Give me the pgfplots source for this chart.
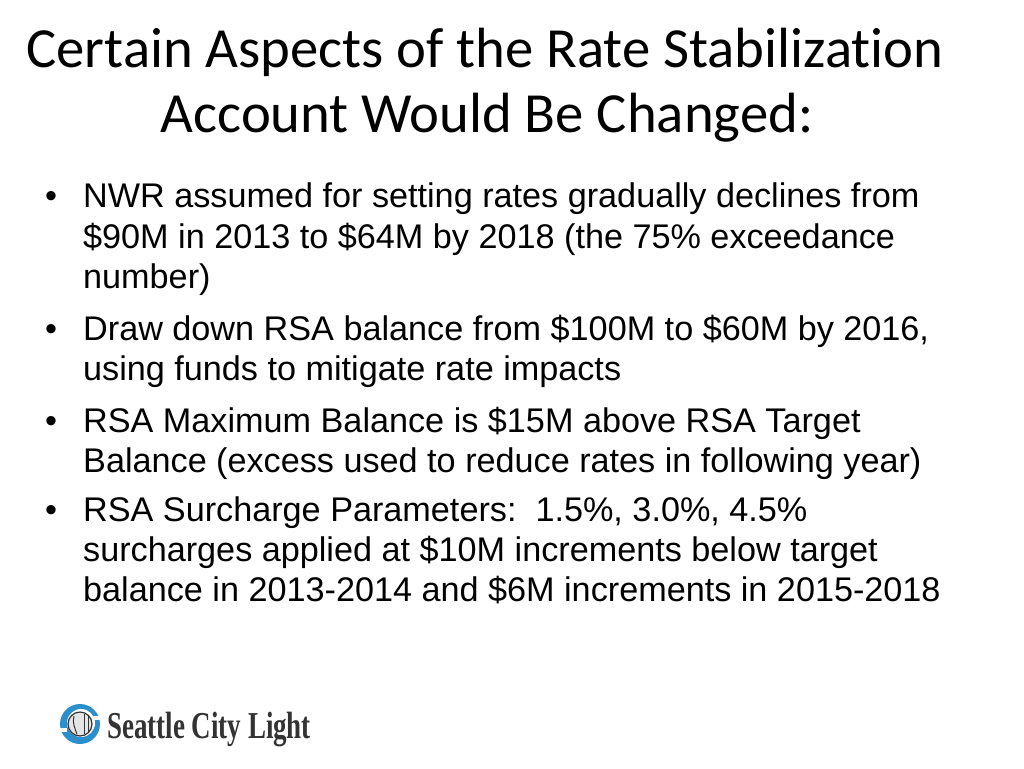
\documentclass[border=0pt]{standalone}
\usepackage{fontspec}
\setmainfont{Liberation Sans}
\newfontfamily\titlefont[Ligatures={NoCommon}]{Carlito}
\newfontfamily\logofont{Liberation Serif}
\usepackage{pgfplots}
\pgfplotsset{compat=1.18}
\definecolor{scl}{HTML}{2A8FCB}
\definecolor{logogray}{HTML}{333333}
\tikzset{body/.style={anchor=base west, font=\fontsize{34.2}{40}\selectfont, inner sep=0pt},
         bul/.style={anchor=base, font=\fontsize{34.2}{40}\selectfont, inner sep=0pt},
         ttl/.style={anchor=base, font=\titlefont\fontsize{56.7}{64}\selectfont, inner sep=0pt}}
\begin{document}
\begin{tikzpicture}
\begin{axis}[
  scale only axis, width=1024pt, height=768pt,
  xmin=0, xmax=1024, ymin=0, ymax=768, y dir=reverse,
  hide axis, clip=false,
]
\fill[white] (axis cs:0,0) rectangle (axis cs:1024,768);
% title
\node[ttl] at (axis cs:485,67) {Certain Aspects of the Rate Stabilization};
\node[ttl] at (axis cs:487,132) {Account Would Be Changed:};
% bullets
\node[bul] at (axis cs:51,207) {\textbullet};
\node[bul] at (axis cs:51,340) {\textbullet};
\node[bul] at (axis cs:51,432) {\textbullet};
\node[bul] at (axis cs:51,521) {\textbullet};
\node[body] at (axis cs:83,207) {NWR assumed for setting rates gradually declines from};
\node[body] at (axis cs:83,248) {\$90M in 2013 to \$64M by 2018 (the 75\% exceedance};
\node[body] at (axis cs:83,288) {number)};
\node[body] at (axis cs:83,340) {Draw down RSA balance from \$100M to \$60M by 2016,};
\node[body] at (axis cs:83,380) {using funds to mitigate rate impacts};
\node[body] at (axis cs:83,432) {RSA Maximum Balance is \$15M above RSA Target};
\node[body] at (axis cs:83,472) {Balance (excess used to reduce rates in following year)};
\node[body] at (axis cs:83,521) {RSA Surcharge Parameters:\ \ 1.5\%, 3.0\%, 4.5\%};
\node[body] at (axis cs:83,561) {surcharges applied at \$10M increments below target};
\node[body] at (axis cs:83,601) {balance in 2013-2014 and \$6M increments in 2015-2018};
% logo
\fill[scl] (axis cs:80,724) circle[radius=20pt];
\fill[white] (axis cs:81,723) circle[radius=14pt];
\fill[white] (axis cs:58,728) rectangle (axis cs:67,732);
\fill[white] (axis cs:93,716) rectangle (axis cs:102,720);
\filldraw[draw=logogray, fill=gray!20, line width=1.2pt] (axis cs:80,724) circle[radius=12pt];
\draw[logogray, line width=1pt] (axis cs:74,716) .. controls (axis cs:72,722) and (axis cs:75,729) .. (axis cs:77,734);
\draw[logogray, line width=1pt] (axis cs:84,714) -- (axis cs:84,734);
\draw[logogray, line width=1pt] (axis cs:88,716) -- (axis cs:88,732);
\node[anchor=base west, inner sep=0pt, xscale=0.71, text=logogray, font=\logofont\bfseries\fontsize{38}{40}\selectfont] at (axis cs:107,738) {Seattle City Light};
\end{axis}
\end{tikzpicture}
\end{document}
